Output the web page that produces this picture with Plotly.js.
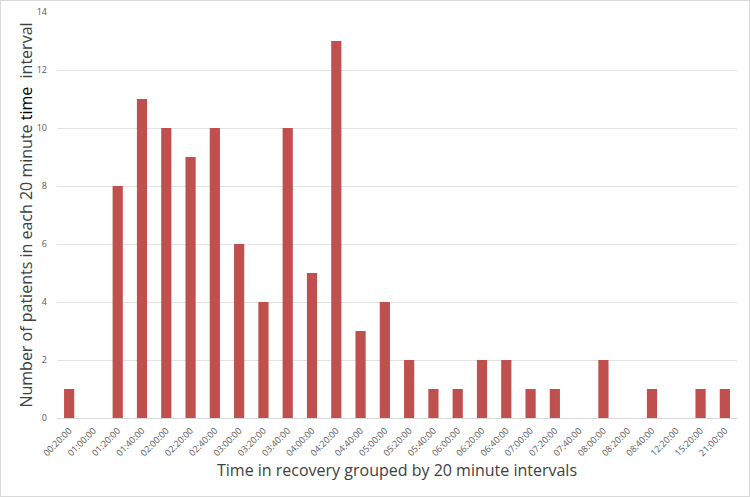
<!DOCTYPE html>
<html>
<head>
<meta charset="utf-8">
<script src="https://cdn.plot.ly/plotly-3.0.1.min.js"></script>
<style>
html,body{margin:0;padding:0;background:#fff;}
#chart{width:748px;height:495px;border:1px solid #d9d9d9;}
</style>
</head>
<body>
<div id="chart"></div>
<script>
const categories = ["00:20:00","01:00:00","01:20:00","01:40:00","02:00:00","02:20:00","02:40:00","03:00:00","03:20:00","03:40:00","04:00:00","04:20:00","04:40:00","05:00:00","05:20:00","05:40:00","06:00:00","06:20:00","06:40:00","07:00:00","07:20:00","07:40:00","08:00:00","08:20:00","08:40:00","12:20:00","15:20:00","21:00:00"];
const patients = [1,0,8,11,10,9,10,6,4,10,5,13,3,4,2,1,1,2,2,1,1,0,2,0,1,0,1,1];
const yTicks = [0,2,4,6,8,10,12,14];

const trace = {
  type: "bar",
  x: categories,
  y: patients,
  marker: {color: "#C0504D"},
  hoverinfo: "x+y"
};

const layout = {
  width: 748,
  height: 495,
  margin: {l: 56, r: 12, t: 11, b: 78},
  paper_bgcolor: "#ffffff",
  plot_bgcolor: "#ffffff",
  bargap: 0.58,
  showlegend: false,
  font: {family: "Open Sans, Liberation Sans, sans-serif", color: "#595959"},
  xaxis: {
    type: "category",
    tickangle: -45,
    tickfont: {size: 9, color: "#595959"},
    showgrid: false,
    showline: true,
    linecolor: "#d9d9d9",
    linewidth: 1,
    ticks: "",
    ticklabelstandoff: 3,
    title: {text: "Time in recovery grouped by 20 minute intervals", font: {size: 16, color: "#404040"}, standoff: 6}
  },
  yaxis: {
    range: [0, 14],
    tickvals: yTicks,
    tickfont: {size: 9, color: "#595959"},
    showgrid: true,
    gridcolor: "#e3e3e3",
    zeroline: false,
    showline: false,
    ticks: "",
    ticklabelstandoff: 9,
    title: {text: "Number of patients in each 20 minute <span style='color:#000000'>time</span>  interval", font: {size: 16, color: "#404040"}, standoff: 0}
  }
};

Plotly.newPlot("chart", [trace], layout, {displayModeBar: false, staticPlot: true});
</script>
</body>
</html>
